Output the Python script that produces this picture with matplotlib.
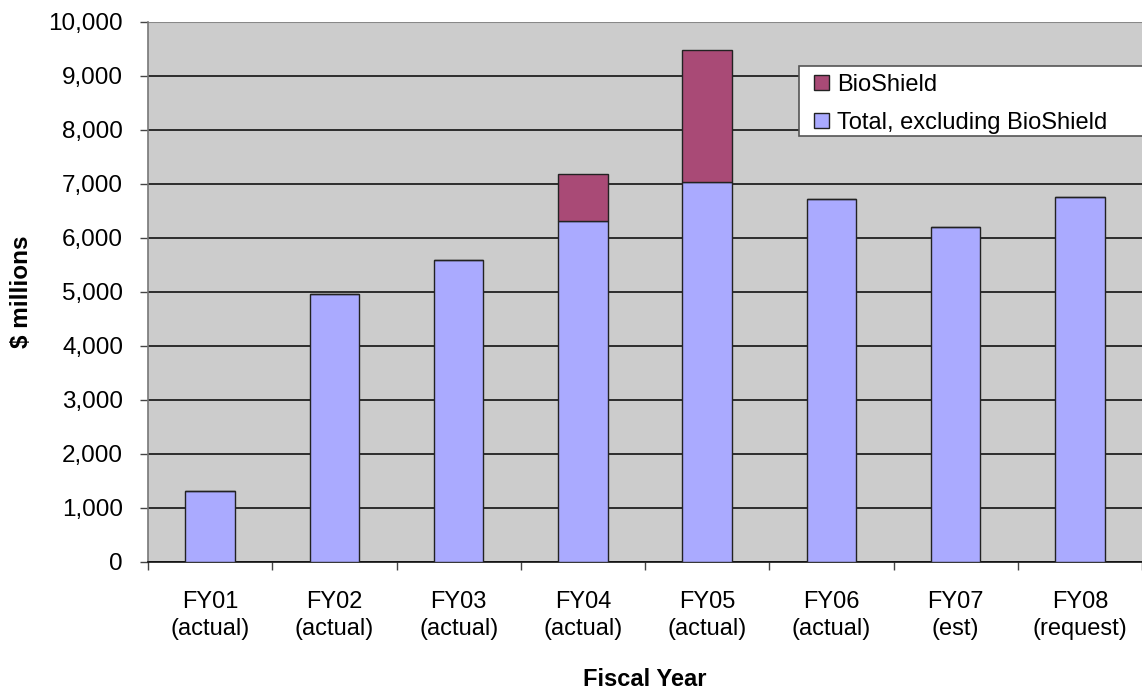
import numpy as np
import matplotlib.pyplot as plt
from matplotlib.patches import Rectangle
from matplotlib.ticker import FuncFormatter

plt.rcParams["font.family"] = ["Liberation Sans", "DejaVu Sans"]

years = ["FY01\n(actual)", "FY02\n(actual)", "FY03\n(actual)", "FY04\n(actual)",
         "FY05\n(actual)", "FY06\n(actual)", "FY07\n(est)", "FY08\n(request)"]
base = [1315, 4960, 5585, 6315, 7035, 6715, 6205, 6755]
bioshield = [0, 0, 0, 870, 2445, 0, 0, 0]

fig = plt.figure(figsize=(11.42, 6.94), dpi=100)
ax = fig.add_axes([0.1296, 0.1906, 0.8704, 0.7781])
ax.set_facecolor("#cccccc")

x = np.arange(len(years)) + 0.5
w = 0.40
b1 = ax.bar(x, base, w, color="#aaaaff", edgecolor="#222222", linewidth=1.0, zorder=3,
            label="Total, excluding BioShield")
b2 = ax.bar(x, bioshield, w, bottom=base, color="#a94a76", edgecolor="#222222",
            linewidth=1.0, zorder=3, label="BioShield")

ax.set_xlim(0, len(years))
ax.set_ylim(0, 10000)
ax.set_yticks(np.arange(0, 10001, 1000))
ax.yaxis.set_major_formatter(FuncFormatter(lambda v, p: f"{int(v):,}"))
ax.grid(axis="y", color="#111111", linewidth=1.2, zorder=1)

# category boundaries get the tick marks, centres get the labels
ax.set_xticks(np.arange(0, len(years) + 1), minor=True)
ax.set_xticks(x)
ax.set_xticklabels(years, fontsize=17, linespacing=1.3)
ax.tick_params(axis="x", which="major", length=0, pad=21)
ax.tick_params(axis="x", which="minor", length=6, width=1, color="#444444")
ax.tick_params(axis="y", length=6, width=1, color="#444444", labelsize=17.5, pad=12)

for s in ["top", "right"]:
    ax.spines[s].set_visible(False)
ax.spines["left"].set_color("#777777")
ax.spines["left"].set_linewidth(1.2)
ax.spines["bottom"].set_color("#111111")
ax.spines["bottom"].set_linewidth(1.2)
ax.axhline(10000, color="#888888", linewidth=1.5, zorder=2)

ax.set_ylabel("$ millions", fontsize=17.5, fontweight="bold", labelpad=11)
ax.set_xlabel("Fiscal Year", fontsize=17, fontweight="bold", labelpad=20)

# white legend panel running off the right edge
ax.add_patch(Rectangle((0.655, 0.788), 0.36, 0.1305, transform=ax.transAxes,
                       facecolor="white", edgecolor="#555555", linewidth=1.2,
                       clip_on=False, zorder=4))
leg = ax.legend([b2, b1], ["BioShield", "Total, excluding BioShield"],
                loc="upper left", bbox_to_anchor=(0.670, 0.903), fontsize=17,
                frameon=False, handlelength=0.64, handleheight=0.6, handletextpad=0.34,
                borderpad=0, labelspacing=0.67, borderaxespad=0)
leg.set_zorder(5)

fig.savefig("out.png", dpi=100, facecolor="white")
